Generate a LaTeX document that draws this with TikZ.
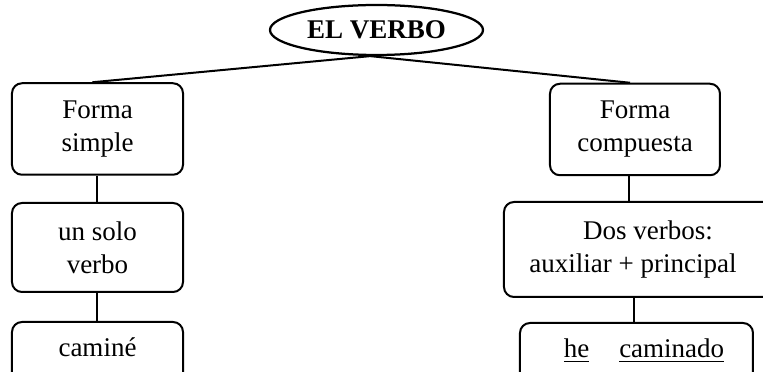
\documentclass[tikz,border=0pt]{standalone}
\usepackage{fontspec}
\setmainfont{Liberation Serif}
\usepackage{tikz}
\usetikzlibrary{shapes}

\begin{document}
\begin{tikzpicture}[
      x=0.4pt, y=-0.4pt, line width=0.8pt,
      every node/.style={draw, align=center, font=\fontsize{10.8}{13.2}\selectfont},
      caja/.style={rounded corners=4pt, minimum width=68.4pt, minimum height=36.6pt, inner sep=1pt},
      cajafin/.style={rounded corners=4pt, anchor=north, inner xsep=1pt, inner ysep=6.4pt,
        text height=7.5pt, text depth=6pt}]
      \useasboundingbox (0,0) rectangle (763,372);
      \node[ellipse, minimum width=85.2pt, minimum height=20pt, inner sep=0pt, line width=0.9pt] (verbo) at (376.5,30) {\textbf{EL VERBO}};
      % rama simple
      \node[caja] (simple) at (97.5,129) {Forma\\simple};
      \node[caja, minimum height=35.6pt] (solo) at (97.5,247.5) {un solo\\verbo};
      \node[cajafin, minimum width=68.4pt] (camine) at (97.5,321) {camin\'e};
      % rama compuesta
      \node[caja, minimum width=68pt] (compuesta) at (635,129.5) {Forma\\compuesta};
      \node[caja, minimum width=108.8pt, minimum height=38pt] (dos) at (640,249.5) {\hspace*{6.4pt}Dos verbos:\\auxiliar + principal\hspace*{5.6pt}};
      \node[cajafin, minimum width=93.2pt] (caminado) at (636.5,322) {\hspace*{6pt}\underline{he}\hspace{12pt}\underline{caminado}};
      \draw ([xshift=-2pt]simple.north) -- ([xshift=-2.5pt]verbo.south);
      \draw ([xshift=-2pt]compuesta.north) -- ([xshift=-2.5pt]verbo.south);
      \draw (simple) -- (solo);
      \draw (solo) -- (camine);
      \draw ([xshift=-2.4pt]compuesta.south) -- ([xshift=-2.4pt]compuesta.south |- dos.north);
      \draw ([xshift=-2.4pt]dos.south) -- ([xshift=-2.4pt]dos.south |- caminado.north);
    \end{tikzpicture}
\end{document}
